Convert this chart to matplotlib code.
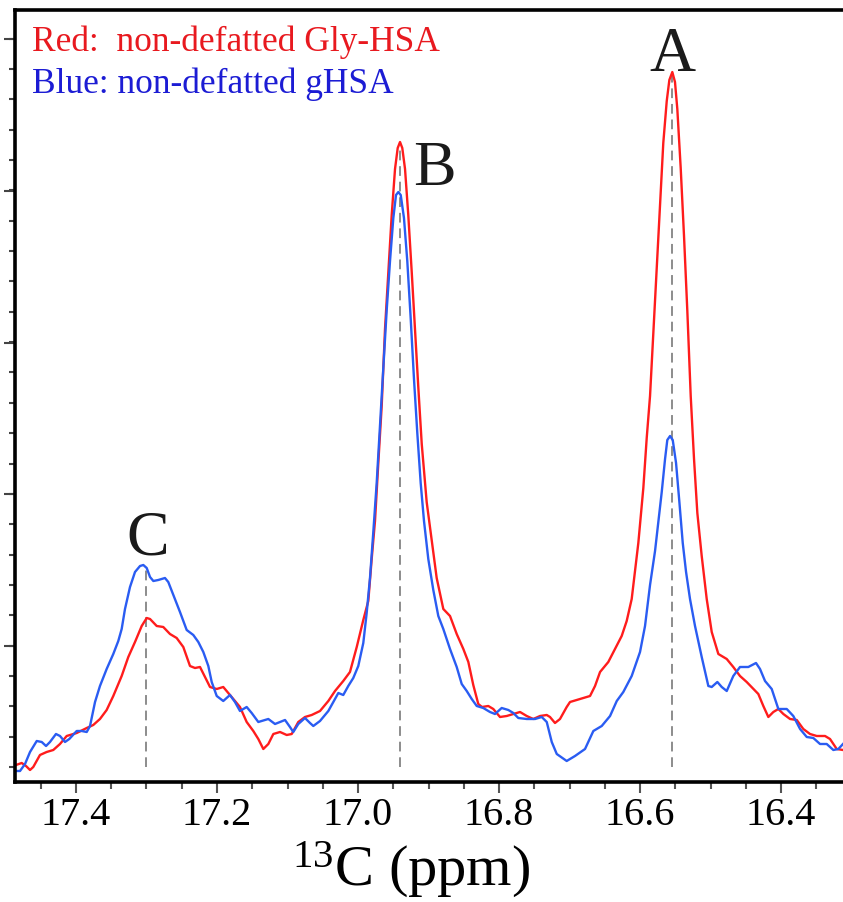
import matplotlib.pyplot as plt
from matplotlib.ticker import MultipleLocator, FixedLocator
import numpy as np

# 13C chemical shift (ppm) and intensity (arbitrary units)
RED_PPM = [17.4851, 17.4770, 17.4709, 17.4652, 17.4606, 17.4511, 17.4416, 17.4322, 17.4227, 17.4132,
	17.3990, 17.3848, 17.3755, 17.3660, 17.3565, 17.3471, 17.3352, 17.3258, 17.3163, 17.3068,
	17.2997, 17.2950, 17.2855, 17.2762, 17.2667, 17.2572, 17.2478, 17.2383, 17.2312, 17.2241,
	17.2170, 17.2099, 17.2004, 17.1911, 17.1816, 17.1674, 17.1579, 17.1485, 17.1414, 17.1343,
	17.1272, 17.1201, 17.1106, 17.1011, 17.0940, 17.0847, 17.0752, 17.0657, 17.0539, 17.0421,
	17.0326, 17.0209, 17.0114, 17.0018, 16.9925, 16.9854, 16.9806, 16.9759, 16.9712, 16.9664,
	16.9617, 16.9570, 16.9522, 16.9475, 16.9437, 16.9404, 16.9372, 16.9333, 16.9287, 16.9238,
	16.9192, 16.9145, 16.9096, 16.9026, 16.8955, 16.8884, 16.8790, 16.8695, 16.8600, 16.8506,
	16.8435, 16.8365, 16.8294, 16.8241, 16.8152, 16.8081, 16.7986, 16.7891, 16.7797, 16.7702,
	16.7607, 16.7514, 16.7418, 16.7323, 16.7277, 16.7206, 16.7135, 16.7040, 16.6993, 16.6898,
	16.6804, 16.6709, 16.6638, 16.6567, 16.6450, 16.6355, 16.6260, 16.6189, 16.6118, 16.6024,
	16.5953, 16.5905, 16.5858, 16.5811, 16.5763, 16.5716, 16.5670, 16.5621, 16.5584, 16.5542,
	16.5504, 16.5471, 16.5423, 16.5376, 16.5329, 16.5281, 16.5234, 16.5187, 16.5125, 16.5054,
	16.4983, 16.4889, 16.4770, 16.4677, 16.4582, 16.4487, 16.4322, 16.4251, 16.4180, 16.4109,
	16.4038, 16.3967, 16.3872, 16.3777, 16.3684, 16.3589, 16.3494, 16.3376, 16.3305, 16.3210,
	16.3121]
RED_INT = [2, 4, 1, -3, 0, 12, 15, 17, 23, 31,
	34, 39, 42, 48, 57, 71, 91, 110, 125, 141,
	149, 148, 141, 140, 133, 129, 120, 101, 99, 100,
	90, 80, 78, 80, 72, 60, 45, 36, 28, 18,
	23, 33, 35, 32, 33, 45, 50, 52, 56, 66,
	76, 86, 95, 120, 147, 166, 208, 246, 304, 361,
	438, 495, 552, 598, 619, 625, 619, 598, 552, 495,
	438, 380, 323, 265, 227, 189, 158, 151, 133, 118,
	105, 82, 63, 60, 61, 58, 50, 51, 53, 55,
	51, 48, 51, 52, 50, 44, 48, 60, 65, 67,
	69, 71, 81, 95, 105, 118, 131, 146, 168, 224,
	279, 329, 371, 434, 498, 561, 624, 666, 687, 695,
	685, 658, 599, 531, 456, 371, 308, 254, 211, 168,
	135, 113, 108, 100, 91, 85, 73, 61, 50, 55,
	58, 53, 48, 47, 38, 33, 31, 31, 28, 18,
	17]

BLUE_PPM = [17.4841, 17.4794, 17.4723, 17.4652, 17.4557, 17.4486, 17.4425, 17.4369, 17.4284, 17.4227,
	17.4156, 17.4095, 17.3990, 17.3919, 17.3848, 17.3801, 17.3730, 17.3660, 17.3565, 17.3471,
	17.3400, 17.3352, 17.3305, 17.3234, 17.3163, 17.3092, 17.3045, 17.2997, 17.2950, 17.2903,
	17.2833, 17.2738, 17.2691, 17.2596, 17.2525, 17.2430, 17.2336, 17.2265, 17.2194, 17.2123,
	17.2075, 17.2004, 17.1911, 17.1816, 17.1745, 17.1674, 17.1579, 17.1508, 17.1414, 17.1272,
	17.1177, 17.1035, 17.0965, 17.0918, 17.0847, 17.0752, 17.0681, 17.0634, 17.0539, 17.0421,
	17.0326, 17.0279, 17.0209, 17.0138, 17.0067, 16.9996, 16.9925, 16.9877, 16.9830, 16.9783,
	16.9735, 16.9688, 16.9641, 16.9593, 16.9546, 16.9499, 16.9461, 16.9428, 16.9394, 16.9348,
	16.9301, 16.9253, 16.9206, 16.9159, 16.9111, 16.9064, 16.9003, 16.8932, 16.8861, 16.8790,
	16.8695, 16.8600, 16.8529, 16.8458, 16.8387, 16.8316, 16.8223, 16.8128, 16.8057, 16.7962,
	16.7868, 16.7797, 16.7726, 16.7607, 16.7489, 16.7394, 16.7323, 16.7252, 16.7181, 16.7040,
	16.6922, 16.6780, 16.6662, 16.6543, 16.6425, 16.6330, 16.6237, 16.6118, 16.6000, 16.5929,
	16.5858, 16.5787, 16.5740, 16.5692, 16.5645, 16.5613, 16.5574, 16.5536, 16.5489, 16.5443,
	16.5394, 16.5347, 16.5291, 16.5220, 16.5125, 16.5031, 16.4983, 16.4903, 16.4841, 16.4770,
	16.4677, 16.4582, 16.4464, 16.4355, 16.4298, 16.4227, 16.4132, 16.4038, 16.3919, 16.3826,
	16.3730, 16.3635, 16.3542, 16.3447, 16.3352, 16.3258, 16.3187, 16.3121]
BLUE_INT = [-4, -4, 3, 15, 26, 25, 21, 25, 33, 31,
	25, 28, 36, 36, 35, 41, 65, 81, 98, 113,
	126, 138, 158, 180, 195, 201, 202, 199, 190, 186,
	187, 189, 185, 168, 155, 137, 132, 125, 115, 101,
	85, 71, 66, 72, 65, 56, 60, 54, 45, 48,
	43, 47, 40, 35, 43, 49, 44, 41, 46, 56,
	68, 74, 72, 81, 89, 101, 124, 154, 189, 235,
	284, 342, 399, 457, 506, 549, 572, 575, 572, 549,
	506, 449, 388, 334, 284, 246, 208, 177, 151, 138,
	118, 100, 83, 76, 68, 61, 59, 55, 53, 59,
	57, 54, 49, 48, 48, 50, 45, 25, 13, 6,
	11, 18, 36, 41, 51, 66, 75, 91, 115, 141,
	182, 216, 245, 275, 308, 327, 331, 327, 304, 266,
	224, 195, 168, 141, 110, 81, 80, 85, 80, 76,
	91, 100, 100, 104, 98, 86, 78, 58, 58, 51,
	38, 30, 29, 23, 23, 17, 18, 23]

PEAK_NAMES = ['A', 'B', 'C']
PEAK_PPM = [16.554, 16.940, 17.300]
PEAK_TOP = [695, 625, 200]

RED_LABEL = 'Red:  non-defatted Gly-HSA'
BLUE_LABEL = 'Blue: non-defatted gHSA'

# label anchors (ppm, intensity) for the peak letters
LABEL_POS = {'A': (16.554, 697), 'B': (16.891, 583), 'C': (17.298, 213)}
YTICK_STEP = 30.35


def draw_spectrum():
	plt.rcParams['font.family'] = ['Liberation Serif', 'DejaVu Serif']
	plt.rcParams['mathtext.fontset'] = 'custom'
	plt.rcParams['mathtext.rm'] = 'Liberation Serif'
	plt.rcParams['mathtext.default'] = 'regular'

	fig = plt.figure(figsize=(8.43, 9.03), dpi=100)
	ax = fig.add_axes([0.0178, 0.1329, 0.9822, 0.8549])

	ax.plot(RED_PPM, RED_INT, color='#ff1c1c', lw=1.7, solid_joinstyle='round')
	ax.plot(BLUE_PPM, BLUE_INT, color='#2a5cf2', lw=1.7, solid_joinstyle='round')

	# peak guide lines
	ax.vlines(PEAK_PPM, 0, PEAK_TOP, colors='#8c8c8c', linestyles=(0, (5, 3)), lw=1.4, zorder=1)
	for name in PEAK_NAMES:
		px, py = LABEL_POS[name]
		ax.text(px, py, name, fontsize=46, ha='center', va='baseline', color='#1a1a1a')

	ax.text(0.0205, 0.948, RED_LABEL, transform=ax.transAxes, fontsize=25.5, color='#e8191f')
	ax.text(0.0205, 0.894, BLUE_LABEL, transform=ax.transAxes, fontsize=25.5, color='#1c1cd4')

	ax.set_xlim(17.4865, 16.3121)
	ax.set_ylim(-15, 757)

	ax.xaxis.set_major_locator(MultipleLocator(0.2))
	ax.xaxis.set_minor_locator(MultipleLocator(0.05))
	ax.xaxis.set_major_formatter('{x:.1f}')
	ax.yaxis.set_major_locator(FixedLocator(np.arange(121, 757, 5 * YTICK_STEP)))
	ax.yaxis.set_minor_locator(FixedLocator(np.arange(0, 757, YTICK_STEP)))
	ax.set_yticklabels([])

	ax.tick_params(axis='x', which='major', length=8, width=1.5, color='#555555', labelsize=29, pad=2)
	ax.tick_params(axis='x', which='minor', length=5, width=1.5, color='#555555')
	ax.tick_params(axis='y', which='major', length=8, width=1.5, color='#444444')
	ax.tick_params(axis='y', which='minor', length=4.5, width=1.5, color='#444444')

	for side in ['left', 'top', 'bottom']:
		ax.spines[side].set_linewidth(2.6)
		ax.spines[side].set_color('black')
	ax.spines['right'].set_visible(False)

	ax.set_xlabel('$^{13}$C (ppm)', fontsize=42)
	ax.xaxis.set_label_coords(0.478, -0.073)

	fig.savefig('out.png', dpi=100)


if __name__ == '__main__':
	draw_spectrum()
